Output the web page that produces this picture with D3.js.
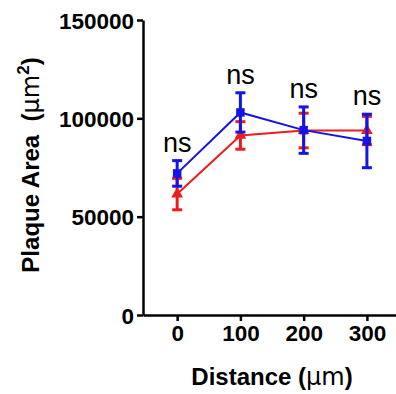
<!DOCTYPE html>
<html><head><meta charset="utf-8">
<script src="https://cdn.jsdelivr.net/npm/d3@7"></script>
<style>body{margin:0;background:#fff}svg{display:block}text{font-family:"Liberation Sans",Arial,sans-serif}</style>
</head><body><svg id="c" width="396" height="394"></svg>
<script>
const distances = [0, 100, 200, 300];
const blueMean = [72000, 103000, 94000, 88500];
const blueErr  = [6500, 10000, 11800, 13600];
const redMean  = [61500, 91300, 93800, 93800];
const redErr   = [8000, 7000, 8800, 7200];
const yTicks = [0, 50000, 100000, 150000];
const xTicks = [0, 100, 200, 300];
const sigLabels = ["ns", "ns", "ns", "ns"];

const svg = d3.select("#c");
const x = d3.scaleLinear().domain([-54, 346]).range([143, 396]);
const y = d3.scaleLinear().domain([0, 150000]).range([315, 20]);

const series = [
  {name: "red", color: "#ee1c1c", mean: redMean, err: redErr, marker: "triangle"},
  {name: "blue", color: "#1414e6", mean: blueMean, err: blueErr, marker: "square"}
];

// axes
const yAxis = svg.append("g").attr("transform", "translate(143,0)")
  .call(d3.axisLeft(y).tickValues(yTicks).tickFormat(d3.format("d")).tickSize(6).tickSizeOuter(0));
const xAxis = svg.append("g").attr("transform", "translate(0,315)")
  .call(d3.axisBottom(x).tickValues(xTicks).tickFormat(d3.format("d")).tickSize(6).tickSizeOuter(0));
[yAxis, xAxis].forEach(a => {
  a.select(".domain").attr("stroke", "#000").attr("stroke-width", 2.5);
  a.selectAll(".tick line").attr("stroke", "#000").attr("stroke-width", 2.5);
  a.selectAll(".tick text").attr("fill", "#000").style("font-size", "22.5px").style("font-weight", "bold");
});
yAxis.selectAll(".tick text").attr("x", -9).attr("dy", "0.36em");
xAxis.selectAll(".tick text").attr("y", 10);

// series
series.forEach(s => {
  const pts = distances.map((d, i) => ({d, m: s.mean[i], e: s.err[i]}));
  const g = svg.append("g");
  g.append("path").datum(pts)
    .attr("fill", "none").attr("stroke", s.color).attr("stroke-width", 2)
    .attr("d", d3.line().x(p => x(p.d)).y(p => y(p.m)));
  const eb = g.selectAll(".eb").data(pts).enter().append("g");
  eb.append("line").attr("x1", p => x(p.d)).attr("x2", p => x(p.d))
    .attr("y1", p => y(p.m - p.e)).attr("y2", p => y(p.m + p.e))
    .attr("stroke", s.color).attr("stroke-width", 3);
  [1, -1].forEach(sg => {
    eb.append("line").attr("x1", p => x(p.d) - 5).attr("x2", p => x(p.d) + 5)
      .attr("y1", p => y(p.m + sg * p.e)).attr("y2", p => y(p.m + sg * p.e))
      .attr("stroke", s.color).attr("stroke-width", 3);
  });
  const sym = s.marker === "square" ? d3.symbolSquare : d3.symbolTriangle;
  eb.append("path").attr("d", d3.symbol().type(sym).size(s.marker === "square" ? 72 : 60))
    .attr("transform", p => `translate(${x(p.d)},${y(p.m)})`)
    .attr("fill", s.color);
});

// ns labels
svg.selectAll(".ns").data(distances).enter().append("text")
  .attr("x", d => x(d))
  .attr("y", (d, i) => y(Math.max(blueMean[i] + blueErr[i], redMean[i] + redErr[i])) - 9)
  .attr("text-anchor", "middle").style("font-size", "27px").attr("fill", "#000")
  .text((d, i) => sigLabels[i]);

// axis titles
const xt = svg.append("text").attr("x", 272).attr("y", 385).attr("text-anchor", "middle")
  .style("font-size", "24px").style("font-weight", "bold").attr("fill", "#000");
xt.append("tspan").text("Distance (");
xt.append("tspan").style("font-weight", "normal").style("font-family", "'DejaVu Sans'").text("μm");
xt.append("tspan").text(")");

const yt = svg.append("text").attr("transform", "translate(39,165) rotate(-90)").attr("text-anchor", "middle")
  .style("font-size", "24px").style("font-weight", "bold").attr("fill", "#000");
yt.append("tspan").text("Plaque Area\u00a0\u00a0(");
yt.append("tspan").style("font-weight", "normal").style("font-family", "'DejaVu Sans'").text("μm");
yt.append("tspan").attr("dy", -10).style("font-size", "17px").text("2");
yt.append("tspan").attr("dy", 10).text(")");
</script></body></html>
